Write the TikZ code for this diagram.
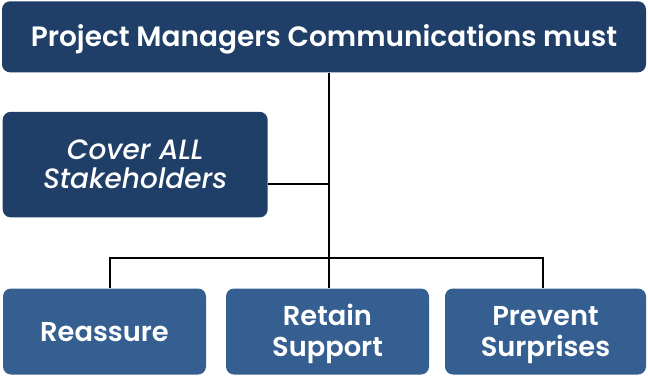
\documentclass[tikz,border=0pt]{standalone}
\usepackage{fontspec}
\setmainfont{Poppins}[BoldFont={Poppins SemiBold},ItalicFont={Poppins Medium Italic}]
\definecolor{darkbox}{HTML}{1F3F68}
\definecolor{lightbox}{HTML}{365F91}
\begin{document}
\begin{tikzpicture}[x=1pt,y=-1pt,
  box/.style={rounded corners=8pt,inner sep=0pt,text=white,align=center,font=\fontsize{28}{31.5}\selectfont\bfseries},
  dbox/.style={box,fill=darkbox},
  lbox/.style={box,fill=lightbox,minimum height=86pt,font=\fontsize{27.3}{31.5}\selectfont\bfseries},
  oneline/.style={text height=19pt,text depth=0pt},
  twoline/.style={text height=#1,text depth=0pt},
  conn/.style={draw=black,line width=2pt}]
\useasboundingbox (0,0) rectangle (648,376);
\node[dbox,oneline,minimum width=644pt,minimum height=71pt] (top) at (324,36.8) {Project Managers Communications must};
\node[dbox,twoline=48pt,minimum width=265pt,minimum height=105.5pt,font=\fontsize{28}{29}\selectfont\itshape] (cover) at (135.2,164.6) {Cover ALL\\Stakeholders};
\node[lbox,oneline,minimum width=203pt] (r1) at (104.5,331.5) {Reassure};
\node[lbox,twoline=50.5pt,minimum width=203pt] (r2) at (327.5,331.5) {Retain\\Support};
\node[lbox,twoline=50.5pt,minimum width=201pt] (r3) at (545.5,331.5) {Prevent\\Surprises};
\coordinate (j) at (329,184);
\coordinate (bus) at (329,258);
\coordinate (b1) at (110,288);
\coordinate (b3) at (543,288);
\draw[conn] (top.south -| j) -- (j |- r2.north);
\draw[conn] (cover.east |- j) -- (j);
\draw[conn] (b1) |- (bus) -| (b3);
\end{tikzpicture}
\end{document}
